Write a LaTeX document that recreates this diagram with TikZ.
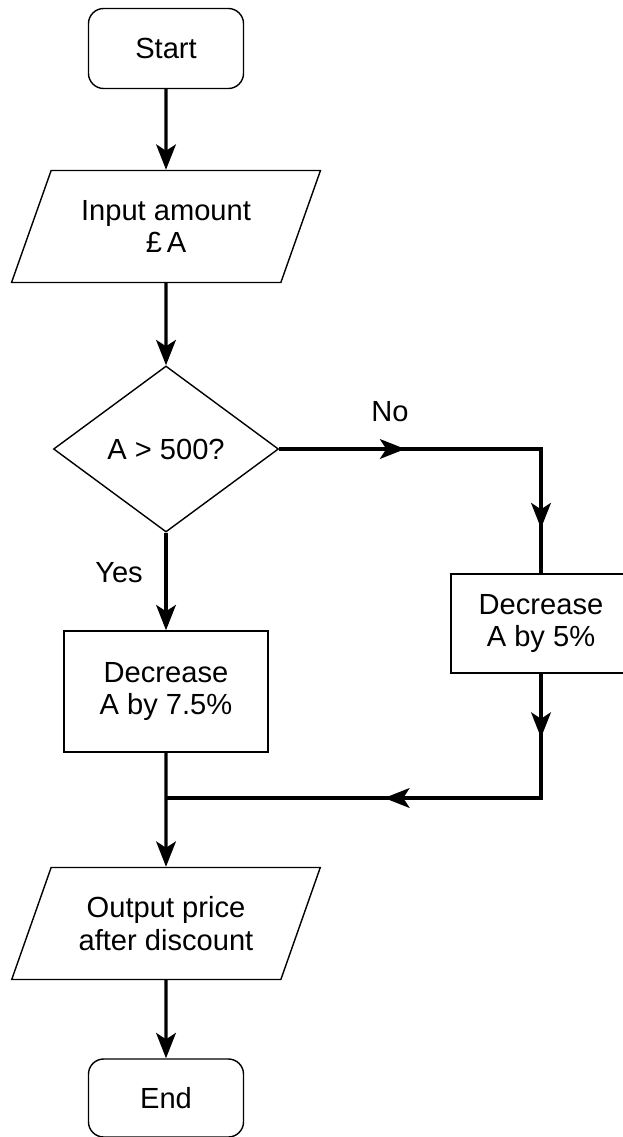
\documentclass[tikz,border=0pt]{standalone}
\usepackage{fontspec}
\setmainfont{Liberation Sans}
\usetikzlibrary{shapes.geometric,arrows.meta,decorations.markings}

\begin{document}
\begin{tikzpicture}[x=0.025cm,y=-0.025cm,
  font=\fontsize{20.7}{23.4}\selectfont,
  >={Stealth[length=18pt,width=14pt,inset=4.5pt]},
  terminal/.style={draw,line width=1pt,rounded corners=0.38cm,minimum width=3.875cm,minimum height=2cm},
  io/.style={draw,line width=1pt,trapezium,trapezium left angle=63.6,trapezium right angle=116.4,
    trapezium stretches=true,minimum width=7.725cm,minimum height=2.8cm,align=center},
  process/.style={draw,line width=1pt,align=center},
  decision/.style={draw,line width=1pt,diamond,aspect=1.355,minimum width=5.625cm,minimum height=4.15cm,inner sep=0pt},
  flow/.style={line width=2.4pt},
  twoarrows/.style 2 args={postaction={decorate},decoration={markings,
    mark=at position #1 with {\arrow{>}},mark=at position #2 with {\arrow{>}}}}]
\useasboundingbox (0,0) rectangle (623,1137);

% boxes
\node[terminal] (start) at (166,48.5) {Start};
\node[io] (input) at (166,226.5) {Input amount\\£\,A};
\node[decision] (decide) at (166,449) {A > 500?};
\node[process,minimum width=5.1cm,minimum height=3.025cm] (cut75) at (166,691.5) {Decrease\\A by 7.5\%};
\node[process,minimum width=4.5cm,minimum height=2.475cm] (cut5) at (541,623.5) {Decrease\\A by 5\%};
\node[io] (output) at (166,923.5) {Output price\\after discount};
\node[terminal,minimum height=1.95cm] (end) at (166,1098) {End};

% labels
\node (nolab) at (390,412) {No};
\node (yeslab) at (119,573) {Yes};

\coordinate (noturn) at (541,449);
\coordinate (backturn) at (541,798);
\coordinate (join) at (166,798);

% arrows
\draw[flow,->] (start) -- (input);
\draw[flow,->] (input) -- (decide);
\draw[flow,->] (decide) -- (cut75);
\draw[flow,twoarrows={3.15cm}{8.525cm}] (decide.east) -- (noturn) -- (cut5.north);
\draw[flow,twoarrows={1.6cm}{7.025cm}] (cut5.south) -- (backturn) -- (join);
\draw[flow,->] (cut75) -- (output);
\draw[flow,->] (output) -- (end);
\end{tikzpicture}
\end{document}
